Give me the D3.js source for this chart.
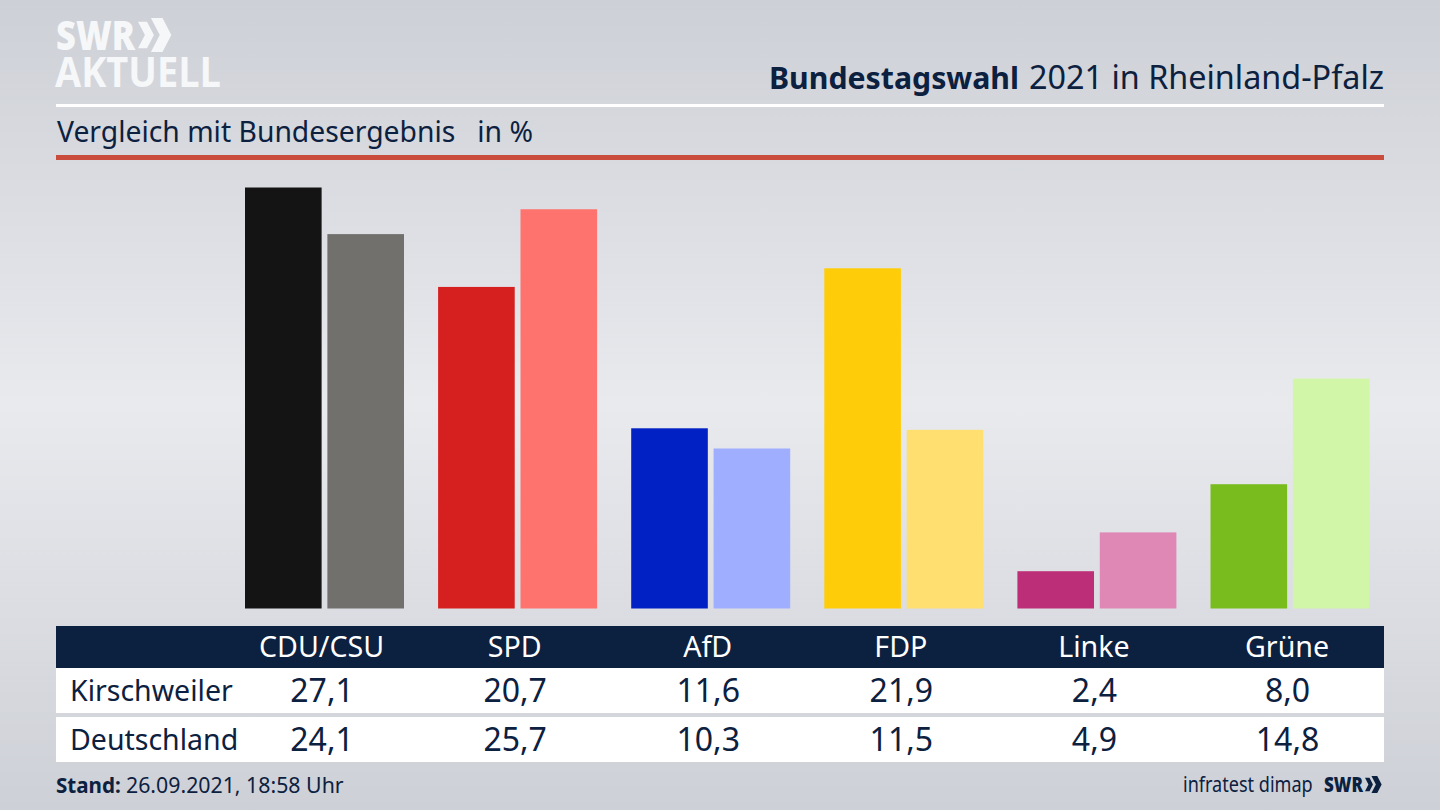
<!DOCTYPE html>
<html>
<head>
<meta charset="utf-8">
<script src="https://cdn.jsdelivr.net/npm/d3@7"></script>
<style>
html, body { margin: 0; padding: 0; background: #d8dae1; }
svg { display: block; font-family: "Noto Sans", sans-serif; }
</style>
</head>
<body>
<svg id="chart" width="1440" height="810"></svg>
<script>
var parties = ["CDU/CSU", "SPD", "AfD", "FDP", "Linke", "Grüne"]
var kirschweiler = [27.1, 20.7, 11.6, 21.9, 2.4, 8.0]
var deutschland = [24.1, 25.7, 10.3, 11.5, 4.9, 14.8]
var rowNames = ["Kirschweiler", "Deutschland"]
var darkColors = ["#141414", "#d61f1f", "#0121c4", "#ffcc0a", "#bc2f78", "#78bc1e"]
var lightColors = ["#72706d", "#ff736f", "#a0aeff", "#ffdf70", "#df88b6", "#d2f6a8"]

var navy = "#0c2040"
var fmt = function(v) { return v.toFixed(1).replace(".", ",") }

var svg = d3.select("#chart")

// background
var defs = svg.append("defs")
var grad = defs.append("linearGradient").attr("id", "bg")
    .attr("x1", 0).attr("y1", 0).attr("x2", 0).attr("y2", 1)
grad.append("stop").attr("offset", "0%").attr("stop-color", "#cdd0d6")
grad.append("stop").attr("offset", "50%").attr("stop-color", "#e9eaee")
grad.append("stop").attr("offset", "100%").attr("stop-color", "#cdd0d6")
svg.append("rect").attr("width", 1440).attr("height", 810).attr("fill", "url(#bg)")

// scales
var x = d3.scaleBand().domain(parties).range([228, 1386.6]).padding(0)
var inner = d3.scaleBand().domain([0, 1]).range([17, 176]).paddingInner(0.07)
var y = d3.scaleLinear().domain([0, 27.1]).range([608.5, 187.5])

// the two arrows of the logo, the first one is smaller
function chevrons(g, h, fill) {
    var w = h * 0.6, t = h * 0.34
    ;[{k: 0, s: 0.78}, {k: h * 0.38, s: 1}].forEach(function(c) {
        var ch = h * c.s, cw = w * c.s, ct = t * c.s, top = (h - ch) / 2
        g.append("path")
            .attr("d", "M" + c.k + " " + top + " L" + (c.k + ct) + " " + top +
                " L" + (c.k + cw) + " " + (h / 2) + " L" + (c.k + ct) + " " + (top + ch) +
                " L" + c.k + " " + (top + ch) + " L" + (c.k + cw - ct) + " " + (h / 2) + " Z")
            .attr("fill", fill)
    })
}

// header
var logo = svg.append("g").attr("fill", "#f6f7f9")
logo.append("text").attr("x", 56).attr("y", 50).attr("font-size", 41).attr("font-weight", 800)
    .attr("font-family", "'Open Sans'").attr("textLength", 79).attr("lengthAdjust", "spacingAndGlyphs").text("SWR")
chevrons(logo.append("g").attr("transform", "translate(138,18)"), 34, "#f6f7f9")
logo.append("text").attr("x", 55).attr("y", 87).attr("font-size", 41).attr("font-weight", 700)
    .attr("font-family", "'Open Sans'").attr("textLength", 166).attr("lengthAdjust", "spacingAndGlyphs").text("AKTUELL")

svg.append("text").attr("x", 769).attr("y", 89).attr("font-size", 31).attr("font-weight", 700)
    .attr("fill", navy).attr("textLength", 250).attr("lengthAdjust", "spacingAndGlyphs").text("Bundestagswahl")
svg.append("text").attr("x", 1029).attr("y", 89).attr("font-size", 32).attr("fill", navy)
    .attr("textLength", 355).attr("lengthAdjust", "spacingAndGlyphs").text("2021 in Rheinland-Pfalz")

svg.append("rect").attr("x", 56).attr("y", 104).attr("width", 1328).attr("height", 3).attr("fill", "#ffffff")
svg.append("text").attr("x", 57).attr("y", 142).attr("font-size", 28.3).attr("fill", navy)
    .style("white-space", "pre").text("Vergleich mit Bundesergebnis   in %")
svg.append("rect").attr("x", 56).attr("y", 155).attr("width", 1328).attr("height", 5).attr("fill", "#c94c3c")

// bars
var groups = svg.append("g").selectAll("g").data(parties).join("g")
    .attr("transform", function(d) { return "translate(" + x(d) + ",0)" })
groups.selectAll("rect")
    .data(function(d, i) {
        return [
            {s: 0, v: kirschweiler[i], c: darkColors[i]},
            {s: 1, v: deutschland[i], c: lightColors[i]}
        ]
    })
    .join("rect")
    .attr("x", function(d) { return inner(d.s) })
    .attr("width", inner.bandwidth())
    .attr("y", function(d) { return y(d.v) })
    .attr("height", function(d) { return y(0) - y(d.v) })
    .attr("fill", function(d) { return d.c })

// table
svg.append("rect").attr("x", 56).attr("y", 626).attr("width", 1328).attr("height", 42).attr("fill", navy)
svg.append("rect").attr("x", 56).attr("y", 668).attr("width", 1328).attr("height", 45).attr("fill", "#ffffff")
svg.append("rect").attr("x", 56).attr("y", 717).attr("width", 1328).attr("height", 45).attr("fill", "#ffffff")

// table text sits a little left of the bar groups
var axis = d3.axisBottom(x).tickSize(0).tickPadding(0)
var axisG = svg.append("g").attr("transform", "translate(-3,626)").call(axis)
axisG.select(".domain").remove()
axisG.selectAll("text").attr("y", 31).attr("dy", 0)
    .attr("font-size", 28.6).attr("font-family", "'Noto Sans'").attr("fill", "#ffffff")

var rowY = [702, 751]
;[kirschweiler, deutschland].forEach(function(vals, r) {
    svg.append("text").attr("x", 70).attr("y", rowY[r] - 1).attr("font-size", 28.5).attr("fill", navy).text(rowNames[r])
    svg.append("g").selectAll("text").data(vals).join("text")
        .attr("x", function(d, i) { return x(parties[i]) + x.bandwidth() / 2 - 2.5 })
        .attr("y", rowY[r])
        .attr("text-anchor", "middle")
        .attr("font-size", 32)
        .attr("fill", navy)
        .text(fmt)
})

// footer
var stand = svg.append("text").attr("x", 56).attr("y", 793).attr("fill", navy)
stand.append("tspan").attr("font-weight", 700).attr("font-size", 20.6).text("Stand:")
stand.append("tspan").attr("x", 126).attr("font-size", 21.3).text("26.09.2021, 18:58 Uhr")

// squeezed by a transform, so the box of the text stays as narrow as the glyphs
svg.append("text").attr("transform", "translate(1183,792) scale(0.86,1)")
    .attr("font-size", 21).attr("fill", navy).text("infratest dimap")
svg.append("text").attr("x", 1324).attr("y", 792).attr("font-size", 21).attr("font-weight", 800)
    .attr("font-family", "'Open Sans'").attr("fill", navy)
    .attr("textLength", 39).attr("lengthAdjust", "spacingAndGlyphs").text("SWR")
chevrons(svg.append("g").attr("transform", "translate(1365,776)"), 17, navy)
</script>
</body>
</html>
